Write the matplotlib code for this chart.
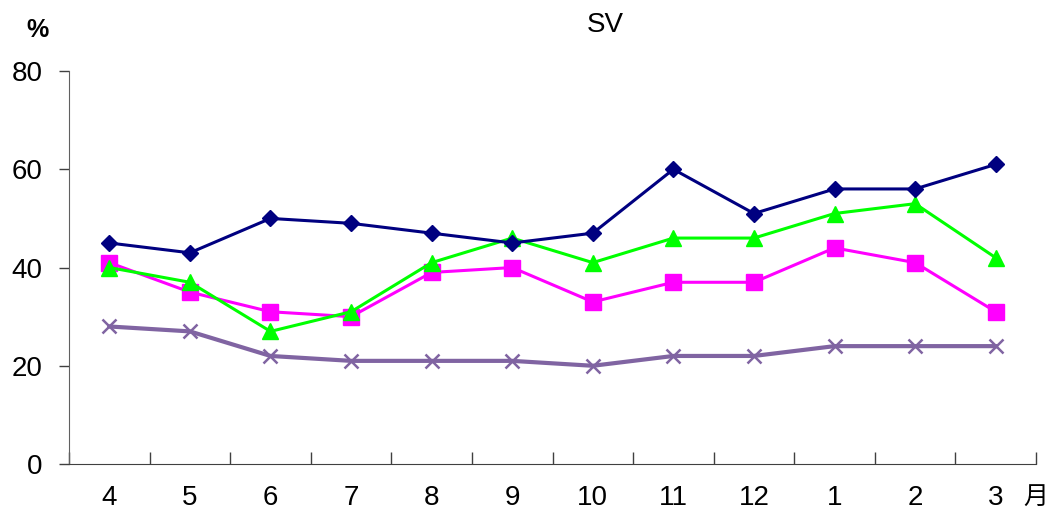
import matplotlib
matplotlib.use('Agg')
import matplotlib.pyplot as plt
import numpy as np

# monthly values (%)
months = ['4', '5', '6', '7', '8', '9', '10', '11', '12', '1', '2', '3']
navy_vals = [45, 43, 50, 49, 47, 45, 47, 60, 51, 56, 56, 61]
magenta_vals = [41, 35, 31, 30, 39, 40, 33, 37, 37, 44, 41, 31]
green_vals = [40, 37, 27, 31, 41, 46, 41, 46, 46, 51, 53, 42]
purple_vals = [28, 27, 22, 21, 21, 21, 20, 22, 22, 24, 24, 24]

plt.rcParams['font.family'] = ['Liberation Sans Narrow', 'Liberation Sans', 'DejaVu Sans']

fig = plt.figure(figsize=(10.49, 5.15), dpi=100)
ax = fig.add_axes([0.0658, 0.099, 0.9218, 0.763])

x = np.arange(len(months))
ax.plot(x, navy_vals, color='#000080', marker='D', markersize=8, lw=2.2, zorder=4)
ax.plot(x, magenta_vals, color='#ff00ff', marker='s', markersize=11, lw=2.2, zorder=3)
ax.plot(x, green_vals, color='#00ff00', marker='^', markersize=11, lw=2.2, zorder=3)
ax.plot(x, purple_vals, color='#8064a2', marker='x', markersize=10, mew=1.8, lw=3, zorder=2)

ax.set_xlim(-0.5, len(months) - 0.5)
ax.set_ylim(0, 80)
ax.set_yticks([0, 20, 40, 60, 80])
ax.set_yticklabels(['0', '20', '40', '60', '80'], fontsize=20)

# month labels centred under each category, ticks on the boundaries
ax.set_xticks(np.arange(-0.5, len(months), 1.0))
ax.set_xticklabels([])
ax.tick_params(axis='x', direction='in', length=9, width=1, color='#404040')
ax.tick_params(axis='y', direction='out', length=7, width=1, pad=12, color='#404040')
for i, m in enumerate(months):
    ax.text(x[i], -6.9, m, ha='center', va='center', fontsize=20)

for s in ['top', 'right']:
    ax.spines[s].set_visible(False)
ax.spines['left'].set_color('#606060')
ax.spines['bottom'].set_color('#404040')

fig.text(0.577, 0.951, 'SV', ha='center', va='center', fontsize=20,
         family=['Liberation Sans', 'DejaVu Sans'])
fig.text(0.036, 0.942, '%', ha='center', va='center', fontsize=18, fontweight='bold',
         family=['Liberation Sans', 'DejaVu Sans'])
fig.text(0.987, 0.035, '月', ha='center', va='center', fontsize=18,
         family=['Noto Sans CJK JP', 'DejaVu Sans'])

fig.savefig('out.png', dpi=100)
